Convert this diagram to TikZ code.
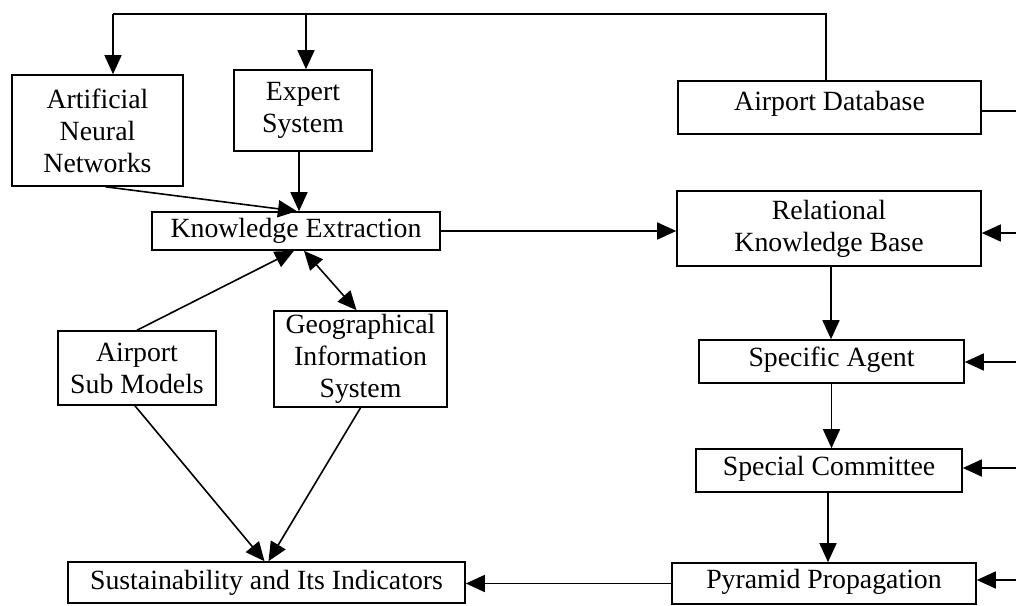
\documentclass[tikz,border=0pt]{standalone}
\usepackage{fontspec}
\setmainfont{Liberation Serif}
\usetikzlibrary{arrows.meta,calc}
\begin{document}
\begin{tikzpicture}[x=0.5pt,y=-0.5pt,
  box/.style={draw,line width=0.8pt,inner sep=0pt,align=center,
    font=\fontsize{13.9}{16}\selectfont},
  liftbig/.style={text height=9pt,text depth=6pt},
  liftsmall/.style={text height=9pt,text depth=4pt},
  conn/.style={line width=0.8pt,-{Triangle[length=9.5pt,width=8.5pt]}},
  plain/.style={line width=0.8pt}]
\useasboundingbox (0,0) rectangle (1016,605);
\node[box,minimum width=85.5pt,minimum height=55.5pt] (ann) at (97.5,130.5) {Artificial\\Neural\\Networks};
\node[box,minimum width=69pt,minimum height=40.5pt] (es) at (303,110.5) {Expert\\System};
\node[box,liftbig,minimum width=151.5pt,minimum height=26.5pt] (adb) at (829.5,107.5) {Airport Database};
\node[box,minimum width=144pt,minimum height=19pt] (ke) at (296,231) {Knowledge Extraction};
\node[box,minimum width=152pt,minimum height=37.5pt] (rkb) at (829,228.5) {Relational\\Knowledge Base};
\node[box,minimum width=79pt,minimum height=37pt] (asm) at (137,368) {Airport\\Sub Models};
\node[box,minimum width=86.5pt,minimum height=48pt] (gis) at (360.5,359) {Geographical\\Information\\System};
\node[box,minimum width=198.5pt,minimum height=20.5pt] (sus) at (266.5,582.5) {Sustainability and Its Indicators};
\node[box,liftsmall,minimum width=132.5pt,minimum height=21.5pt] (sa) at (831.5,361.5) {Specific Agent};
\node[box,liftsmall,minimum width=133pt,minimum height=21.5pt] (sc) at (829,470.5) {Special Committee};
\node[box,liftsmall,minimum width=152pt,minimum height=20.5pt] (pp) at (824,583.5) {Pyramid Propagation};
% top bus
\coordinate (t1) at (826,14);
\coordinate (t2) at (113,14);
\coordinate (t3) at (306,14);
\draw[plain] (adb.north -| t1) -- (t1) -- (t2);
\draw[conn] (t2) -- (t2 |- ann.north);
\draw[conn] (t3) -- (t3 |- es.north);
% right edge
\coordinate (r0) at (1016,111);
\coordinate (r1) at (1016,233);
\coordinate (r2) at (1016,362);
\coordinate (r3) at (1016,468);
\coordinate (r4) at (1016,580);
\draw[plain] (adb.east |- r0) -- (r0);
\draw[conn] (r1) -- (rkb.east |- r1);
\draw[conn] (r2) -- (sa.east |- r2);
\draw[conn] (r3) -- (sc.east |- r3);
\draw[conn] (r4) -- (pp.east |- r4);
% left
\draw[conn] ([xshift=4pt]ann.south) -- ([xshift=0.5pt]ke.north);
\draw[conn] ([xshift=-2pt]es.south) -- ([xshift=-2pt]es.south |- ke.north);
\draw[conn] (ke.east) -- (ke.east -| rkb.west);
\draw[conn] (asm.north) -- ([xshift=-1pt]ke.south);
\draw[conn,{Triangle[length=9.5pt,width=8.5pt]}-{Triangle[length=9.5pt,width=8.5pt]}] ([xshift=4pt]ke.south) -- ([xshift=-2pt]gis.north);
\draw[conn] ([xshift=-1pt]asm.south) -- ([xshift=-1pt]sus.north);
\draw[conn] (gis.south) -- ([xshift=1pt]sus.north);
% right column
\draw[conn] ([xshift=1pt]rkb.south) -- ([xshift=1pt]rkb.south |- sa.north);
\draw[conn] (sa.south) -- (sa.south |- sc.north);
\draw[conn] ([xshift=-0.5pt]sc.south) -- ([xshift=-0.5pt]sc.south |- pp.north);
\draw[conn] (pp.west) -- (pp.west -| sus.east);
\end{tikzpicture}
\end{document}
